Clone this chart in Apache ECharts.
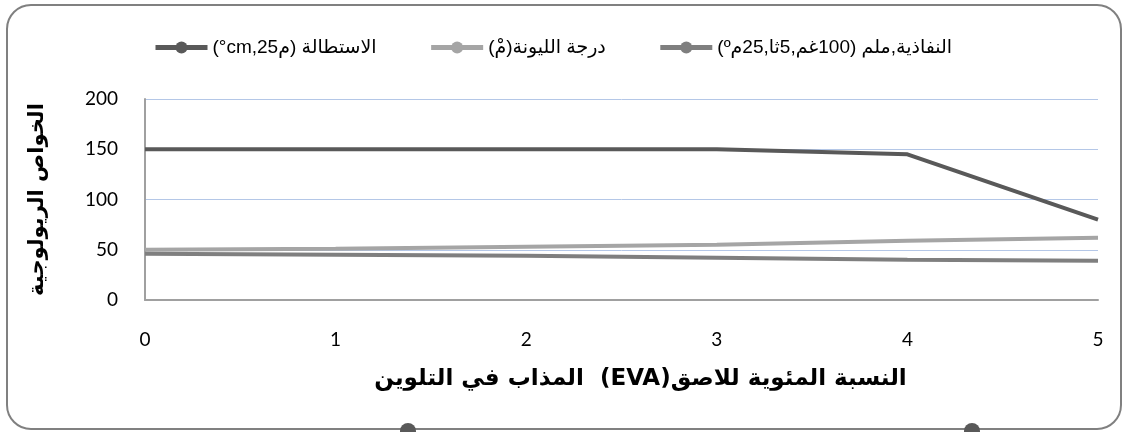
<!DOCTYPE html>
<html>
<head>
<meta charset="utf-8">
<script src="https://cdn.jsdelivr.net/npm/echarts@6/dist/echarts.min.js"></script>
<style>
html, body { margin: 0; padding: 0; background: #fff; }
#main { width: 1129px; height: 432px; }
</style>
</head>
<body>
<div id="main" dir="rtl"></div>
<script>
// قيم المحور الأفقي: نسبة EVA
var xValues = [0, 1, 2, 3, 4, 5];
var names = ['الاستطالة (م25,cm°)', 'درجة الليونة(مْ)', 'النفاذية,ملم (100غم,5ثا,25مº)'];
var elongation = [150, 150, 150, 150, 145, 80];
var softening = [50, 51, 53, 55, 59, 62];
var penetration = [46, 45, 44, 42, 40, 39];
var yTicks = [0, 50, 100, 150, 200];

function pairs(values) {
	var out = [];
	for (var i = 0; i < xValues.length; i++) {
		out.push([xValues[i], values[i]]);
	}
	return out;
}

function lineSeries(name, values, color) {
	return {
		name : name,
		type : 'line',
		data : pairs(values),
		symbol : 'circle',
		symbolSize : 14,
		showSymbol : false,
		lineStyle : { width : 4, color : color },
		itemStyle : { color : color }
	};
}

var myChart = echarts.init(document.getElementById('main'));

var option = {
	backgroundColor : '#ffffff',
	animation : false,
	legend : {
		top : 33,
		left : 148,
		itemWidth : 52,
		itemHeight : 15,
		itemGap : 52,
		lineStyle : { width : 5 },
		textStyle : {
			fontFamily : 'Liberation Sans, DejaVu Sans, sans-serif',
			fontSize : 19,
			color : '#000'
		},
		data : names
	},
	grid : {
		left : 145,
		right : 31,
		top : 99,
		bottom : 132,
		containLabel : false
	},
	xAxis : {
		type : 'value',
		min : 0,
		max : 5,
		interval : 1,
		name : 'النسبة المئوية للاصق(EVA)  المذاب في التلوين',
		nameLocation : 'middle',
		nameGap : 68,
		nameTextStyle : {
			fontFamily : 'DejaVu Sans, sans-serif',
			fontWeight : 'bold',
			fontSize : 23,
			color : '#000',
			padding : [0, 0, 0, 38]
		},
		axisLine : { lineStyle : { color : '#a0a0a0', width : 2 } },
		axisTick : { show : false },
		splitLine : { show : false },
		axisLabel : {
			fontFamily : 'Lato, sans-serif',
			fontSize : 19,
			color : '#000',
			margin : 30
		}
	},
	yAxis : {
		type : 'value',
		min : 0,
		max : 200,
		interval : 50,
		name : 'الخواص الريولوجية',
		nameLocation : 'middle',
		nameGap : 97,
		nameTextStyle : {
			fontFamily : 'DejaVu Sans, sans-serif',
			fontWeight : 'bold',
			fontSize : 21,
			color : '#000'
		},
		axisLine : { show : true, lineStyle : { color : '#a0a0a0', width : 2 } },
		axisTick : { show : false },
		splitLine : { lineStyle : { color : '#b4c7e7', width : 1 } },
		axisLabel : {
			fontFamily : 'Lato, sans-serif',
			fontSize : 19,
			color : '#000',
			margin : 27
		}
	},
	graphic : [
		{
			type : 'rect',
			shape : { x : 7, y : 5, width : 1114, height : 424, r : 24 },
			style : { fill : 'none', stroke : '#808080', lineWidth : 2 },
			z : -1
		},
		{
			type : 'circle',
			shape : { cx : 408, cy : 431, r : 8 },
			style : { fill : '#595959' }
		},
		{
			type : 'circle',
			shape : { cx : 972, cy : 431, r : 8 },
			style : { fill : '#595959' }
		}
	],
	series : [
		lineSeries(names[0], elongation, '#595959'),
		lineSeries(names[1], softening, '#a5a5a5'),
		lineSeries(names[2], penetration, '#7f7f7f')
	]
};

myChart.setOption(option);
</script>
</body>
</html>
